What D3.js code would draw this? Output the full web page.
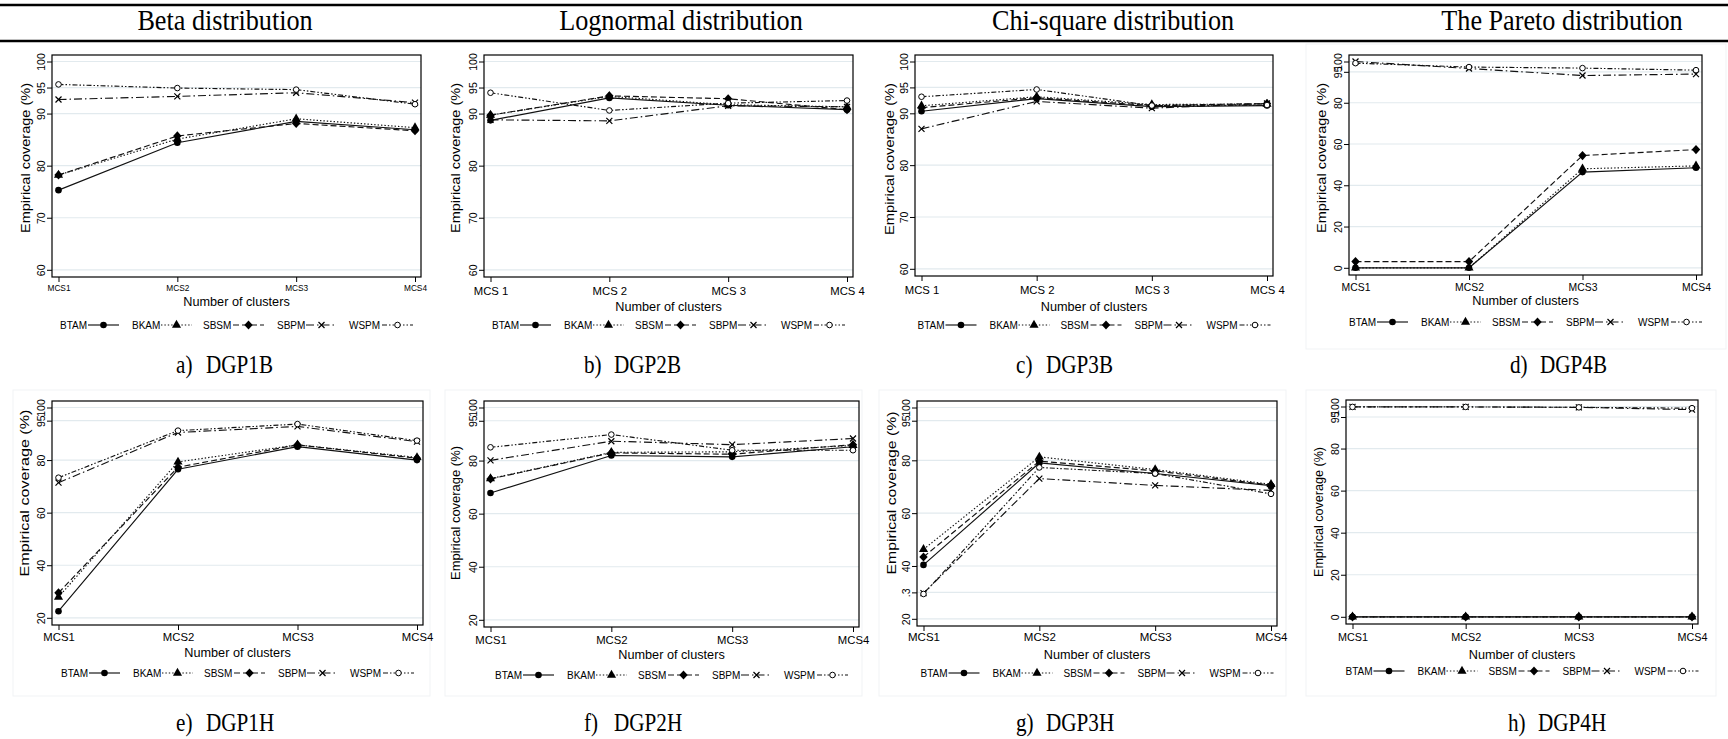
<!DOCTYPE html>
<html><head><meta charset="utf-8">
<script src="https://cdn.jsdelivr.net/npm/d3@7"></script>
<style>body{margin:0;background:#fff;} svg{display:block}</style>
</head><body><svg id="c" width="1728" height="739"></svg>
<script>
const categories = ["MCS1","MCS2","MCS3","MCS4"];
const methods = ["BTAM","BKAM","SBSM","SBPM","WSPM"];
const columnTitles = ["Beta distribution","Lognormal distribution","Chi-square distribution","The Pareto distribution"];
const captionLetters = ["a)","b)","c)","d)","e)","f)","g)","h)"];
const captionNames = ["DGP1B","DGP2B","DGP3B","DGP4B","DGP1H","DGP2H","DGP3H","DGP4H"];
const xLabelsPlain = ["MCS1","MCS2","MCS3","MCS4"];
const xLabelsSpaced = ["MCS 1","MCS 2","MCS 3","MCS 4"];
const yTicksNarrow = [60,70,80,90,95,100];
const yTicksFull = [0,20,40,60,80,95,100];
const yTicksWide = [20,40,60,80,95,100];
const yTicksWide3 = [20,30,40,60,80,95,100];
const yTickLabels3 = ["20",".3","40","60","80","95","100"];

// rows: BTAM, BKAM, SBSM, SBPM, WSPM ; columns: MCS1..MCS4
const dgp1B = [
  [75.3,84.4,88.5,86.9],
  [78.2,85.1,89.0,87.3],
  [78.2,85.7,88.1,86.7],
  [92.7,93.3,94.0,92.1],
  [95.6,94.9,94.6,91.8]];
const dgp2B = [
  [88.7,93.0,91.6,90.75],
  [89.7,93.3,91.7,91.3],
  [89.7,93.4,92.85,90.75],
  [88.8,88.6,91.5,91.3],
  [94.0,90.6,92.0,92.5]];
const dgp3B = [
  [90.4,92.85,91.3,91.5],
  [91.45,93.2,91.7,91.8],
  [91.1,93.0,91.5,91.9],
  [87.0,92.3,91.0,91.9],
  [93.2,94.6,91.5,91.6]];
const dgp4B = [
  [0,0,46.4,48.5],
  [0,0,48.0,49.4],
  [3.0,3.0,54.4,57.3],
  [100,96.6,93.2,93.9],
  [99.2,97.3,96.8,95.8]];
const dgp1H = [
  [22.5,76.5,85.1,80.0],
  [27.9,79.3,85.8,81.0],
  [29.5,77.3,85.8,80.7],
  [71.4,90.5,92.8,87.0],
  [73.3,91.2,93.7,87.4]];
const dgp2H = [
  [67.8,81.9,81.4,85.2],
  [73.2,83.1,83.3,85.7],
  [73.1,82.9,82.4,86.0],
  [80.1,87.3,86.0,88.3],
  [85.0,89.8,83.9,83.9]];
const dgp3H = [
  [40.4,79.0,75.0,70.4],
  [46.3,81.3,76.5,70.9],
  [43.4,79.7,76.0,70.6],
  [29.7,73.1,70.5,68.6],
  [29.4,77.3,75.0,67.3]];
const dgp4H = [
  [0,0,0,0],
  [0,0,0,0],
  [0,0,0,0],
  [99.8,99.8,99.6,98.5],
  [99.8,99.8,99.6,99.2]];

const SANS = "'Liberation Sans', Arial, Helvetica, sans-serif";
const SERIF = "'Liberation Serif', 'Times New Roman', serif";
const svg = d3.select("#c");

// header rules and titles
svg.append("line").attr("x1",0).attr("x2",1728).attr("y1",5).attr("y2",5).attr("stroke","#000").attr("stroke-width",2.5);
svg.append("line").attr("x1",0).attr("x2",1728).attr("y1",41).attr("y2",41).attr("stroke","#000").attr("stroke-width",2.5);
const titleCenters = [225, 681, 1113, 1562];
columnTitles.forEach((t,i)=>{
  svg.append("text").attr("transform",`translate(${titleCenters[i]},30) scale(0.97,1.08)`).attr("text-anchor","middle")
    .attr("font-family",SERIF).attr("font-size",27).text(t);
});

// captions
const capX = [176, 584, 1016, 1510, 176, 584, 1016, 1508];
captionLetters.forEach((l,i)=>{
  const y = i < 4 ? 373 : 731;
  svg.append("text").attr("transform",`translate(${capX[i]},${y}) scale(0.92,1.08)`).attr("font-family",SERIF).attr("font-size",23).text(l);
  svg.append("text").attr("transform",`translate(${capX[i]+30},${y}) scale(0.92,1.08)`).attr("font-family",SERIF).attr("font-size",23).text(captionNames[i]);
});

const styles = [
  {dash:null, marker:"dot"},
  {dash:"1.4,2", marker:"tri"},
  {dash:"6,3", marker:"dia"},
  {dash:"8,3,1.5,3", marker:"x"},
  {dash:"5,2,1.5,2,1.5,2", marker:"o"}
];

function marker(g, type, x, y){
  if(type==="dot") g.append("circle").attr("cx",x).attr("cy",y).attr("r",3.3).attr("fill","#000");
  else if(type==="tri") g.append("path").attr("d",d3.symbol(d3.symbolTriangle,36)()).attr("transform",`translate(${x},${y})`).attr("fill","#000");
  else if(type==="dia") g.append("path").attr("d",`M${x},${y-4.6}L${x+4.2},${y}L${x},${y+4.6}L${x-4.2},${y}Z`).attr("fill","#000");
  else if(type==="x"){
    g.append("path").attr("d",`M${x-3},${y-3}L${x+3},${y+3}M${x-3},${y+3}L${x+3},${y-3}`).attr("stroke","#000").attr("stroke-width",1.2);
  } else g.append("circle").attr("cx",x).attr("cy",y).attr("r",2.8).attr("fill","#fff").attr("stroke","#000").attr("stroke-width",1);
}

const panels = [
  {data:dgp1B,col:0,box:[52,421,55,277],ticks:yTicksNarrow,labels:null,xl:xLabelsPlain,xfs:8.3,xly:288,xty:302,ly:325,yt:{x:25,y:158,len:150}},
  {data:dgp2B,col:1,box:[52,421,55,277],ticks:yTicksNarrow,labels:null,xl:xLabelsSpaced,xfs:11.3,xly:291,xty:307,ly:325,yt:{x:23,y:158,len:150}},
  {data:dgp3B,col:2,box:[51,409,55,276],ticks:yTicksNarrow,labels:null,xl:xLabelsSpaced,xfs:11.3,xly:290,xty:307,ly:325,yt:{x:25,y:159,len:152}},
  {data:dgp4B,col:3,box:[53,406,55,275],ticks:yTicksFull,labels:null,xl:xLabelsPlain,xfs:10.4,xly:287,xty:301,ly:322,yt:{x:25,y:158,len:150},frame:[10,44,420,305]},
  {data:dgp1H,col:0,box:[52,423,401,625],ticks:yTicksWide,labels:null,xl:xLabelsPlain,xfs:11.3,xly:637,xty:653,ly:673,yt:{x:24,y:493,len:167},frame:[13,390,417,306]},
  {data:dgp2H,col:1,box:[52,427,401,627],ticks:yTicksWide,labels:null,xl:xLabelsPlain,xfs:11.3,xly:640,xty:655,ly:675,yt:{x:23,y:513,len:134},frame:[13,390,417,306]},
  {data:dgp3H,col:2,box:[53,413,401,626],ticks:yTicksWide3,labels:yTickLabels3,xl:xLabelsPlain,xfs:11.5,xly:637,xty:655,ly:673,yt:{x:27,y:493,len:163},frame:[15,390,407,306]},
  {data:dgp4H,col:3,box:[50,402,400,624],ticks:yTicksFull,labels:null,xl:xLabelsPlain,xfs:10.8,xly:637,xty:655,ly:671,yt:{x:22,y:512,len:130},frame:[10,390,410,306]}
];

panels.forEach((p,pi)=>{
  const ox = p.col*432;
  const g = svg.append("g").attr("transform",`translate(${ox},0)`);
  const [x0,x1,y0,y1] = p.box;
  if(p.frame){
    g.append("rect").attr("x",p.frame[0]).attr("y",p.frame[1]).attr("width",p.frame[2]).attr("height",p.frame[3])
      .attr("fill","none").attr("stroke","#f1f3f5").attr("stroke-width",1);
  }
  const x = d3.scalePoint().domain(categories).range([x0+6.5, x1-6]);
  const y = d3.scaleLinear().domain([d3.min(p.ticks), d3.max(p.ticks)]).range([y1-7.2, y0+6.5]);
  g.selectAll(null).data(p.ticks).enter().append("line")
    .attr("x1",x0).attr("x2",x1).attr("y1",d=>y(d)).attr("y2",d=>y(d))
    .attr("stroke","#e2eaee").attr("stroke-width",1.2);
  const yAxis = d3.axisLeft(y).tickValues(p.ticks).tickSize(5).tickFormat((d,i)=> p.labels ? p.labels[i] : String(d));
  const ya = g.append("g").attr("transform",`translate(${x0},0)`).call(yAxis);
  ya.select(".domain").remove();
  ya.selectAll(".tick line").attr("stroke","#000");
  ya.selectAll(".tick text").attr("font-family",SANS).attr("font-size",10.5).attr("fill","#000")
    .attr("x",null).attr("dy",null).attr("text-anchor","middle")
    .attr("transform","translate(-11,0) rotate(-90)").attr("dominant-baseline","central");
  const xAxis = d3.axisBottom(x).tickSize(5).tickFormat((d,i)=>p.xl[i]);
  const xa = g.append("g").attr("transform",`translate(0,${y1})`).call(xAxis);
  xa.select(".domain").remove();
  xa.selectAll(".tick line").attr("stroke","#000");
  xa.selectAll(".tick text").attr("font-family",SANS).attr("font-size",p.xfs).attr("fill","#000")
    .attr("y",p.xly - y1).attr("dy",null).attr("dominant-baseline","central");
  g.append("rect").attr("x",x0).attr("y",y0).attr("width",x1-x0).attr("height",y1-y0)
    .attr("fill","none").attr("stroke","#000").attr("stroke-width",1.2);
  g.append("text").attr("x",(x0+x1)/2).attr("y",p.xty).attr("text-anchor","middle").attr("dominant-baseline","central")
    .attr("font-family",SANS).attr("font-size",12.7).text("Number of clusters");
  g.append("text").attr("transform",`translate(${p.yt.x},${p.yt.y}) rotate(-90)`).attr("text-anchor","middle")
    .attr("dominant-baseline","central").attr("font-family",SANS).attr("font-size",13)
    .attr("textLength",p.yt.len).attr("lengthAdjust","spacingAndGlyphs").text("Empirical coverage (%)");
  const line = d3.line().x((d,i)=>x(categories[i])).y(d=>y(d));
  p.data.forEach((vals,si)=>{
    const st = styles[si];
    g.append("path").attr("d",line(vals)).attr("fill","none").attr("stroke","#111").attr("stroke-width",1.15)
      .attr("stroke-dasharray",st.dash);
  });
  p.data.forEach((vals,si)=>{
    vals.forEach((v,i)=>marker(g, styles[si].marker, x(categories[i]), y(v)));
  });
  const lx = (x0+x1)/2 - 176.5;
  const textOff = [0,72,143,217,289], lineOff = [28,101,173,246,322];
  methods.forEach((m,i)=>{
    g.append("text").attr("x",lx+textOff[i]).attr("y",p.ly).attr("dominant-baseline","central")
      .attr("font-family",SANS).attr("font-size",10).text(m);
    const a = lx+lineOff[i];
    g.append("line").attr("x1",a).attr("x2",a+31).attr("y1",p.ly).attr("y2",p.ly)
      .attr("stroke","#111").attr("stroke-width",1.15).attr("stroke-dasharray",styles[i].dash);
    marker(g, styles[i].marker, a+15.5, p.ly);
  });
});
</script></body></html>
